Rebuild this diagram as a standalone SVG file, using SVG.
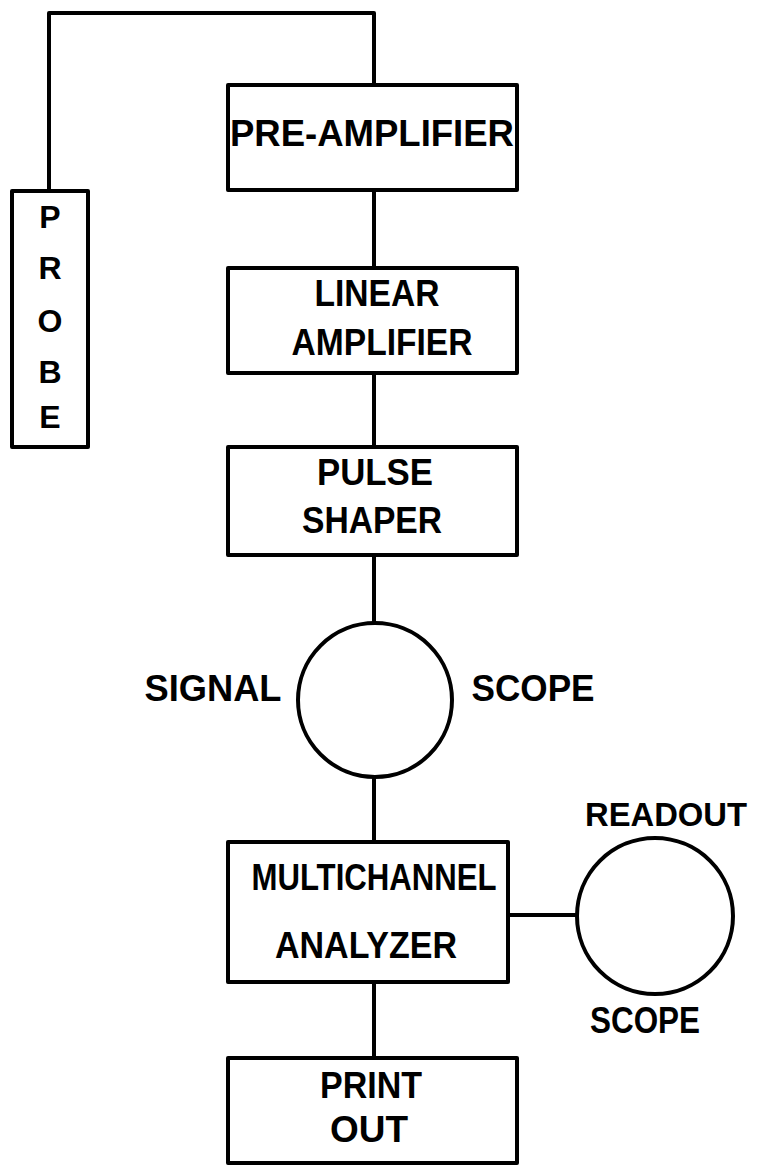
<svg xmlns="http://www.w3.org/2000/svg" width="759" height="1165" viewBox="0 0 759 1165">
<style>
.box{fill:#fff;stroke:#000;stroke-width:4;stroke-linejoin:round}
.line{fill:none;stroke:#000;stroke-width:4;stroke-linejoin:round}
text{font-family:"Liberation Sans",Arial,sans-serif;font-weight:bold;font-size:36px;fill:#000;text-anchor:middle}
.pr{font-size:32px}
.ro{font-size:34px}
</style>
<rect width="759" height="1165" fill="#fff"/>
<g id="connectors">
<path class="line" d="M49,193 V13 H374 V85"/>
<path class="line" d="M374,190 V268"/>
<path class="line" d="M374,373 V447"/>
<path class="line" d="M374,555 V623"/>
<path class="line" d="M374,777 V842"/>
<path class="line" d="M508,915 H577"/>
<path class="line" d="M374,982 V1058"/>
</g>
<g id="probe">
<rect class="box" x="12" y="191" width="76" height="256"/>
<text class="pr" x="50" y="228">P</text>
<text class="pr" x="50" y="279">R</text>
<text class="pr" x="50" y="332">O</text>
<text class="pr" x="50" y="383">B</text>
<text class="pr" x="50" y="428">E</text>
</g>
<g id="preamp">
<rect class="box" x="228" y="85" width="289" height="105"/>
<text x="372" y="146" textLength="284" lengthAdjust="spacingAndGlyphs">PRE-AMPLIFIER</text>
</g>
<g id="linamp">
<rect class="box" x="228" y="268" width="289" height="105"/>
<text x="377" y="306" textLength="125" lengthAdjust="spacingAndGlyphs">LINEAR</text>
<text x="382" y="355" textLength="181" lengthAdjust="spacingAndGlyphs">AMPLIFIER</text>
</g>
<g id="shaper">
<rect class="box" x="228" y="447" width="289" height="108"/>
<text x="375" y="485" textLength="116" lengthAdjust="spacingAndGlyphs">PULSE</text>
<text x="372" y="533" textLength="140" lengthAdjust="spacingAndGlyphs">SHAPER</text>
</g>
<g id="signalscope">
<circle class="box" cx="375" cy="700" r="77"/>
<text x="213" y="701" textLength="137" lengthAdjust="spacingAndGlyphs">SIGNAL</text>
<text x="533" y="701" textLength="123" lengthAdjust="spacingAndGlyphs">SCOPE</text>
</g>
<g id="mca">
<rect class="box" x="228" y="842" width="280" height="140"/>
<text x="374" y="890" textLength="245" lengthAdjust="spacingAndGlyphs">MULTICHANNEL</text>
<text x="366" y="958" textLength="182" lengthAdjust="spacingAndGlyphs">ANALYZER</text>
</g>
<g id="readoutscope">
<circle class="box" cx="655" cy="916" r="78"/>
<text class="ro" x="666" y="826" textLength="162" lengthAdjust="spacingAndGlyphs">READOUT</text>
<text x="645" y="1033" textLength="110" lengthAdjust="spacingAndGlyphs">SCOPE</text>
</g>
<g id="printout">
<rect class="box" x="228" y="1058" width="289" height="105"/>
<text x="371" y="1098" textLength="102" lengthAdjust="spacingAndGlyphs">PRINT</text>
<text x="369" y="1142" textLength="78" lengthAdjust="spacingAndGlyphs">OUT</text>
</g>
</svg>
